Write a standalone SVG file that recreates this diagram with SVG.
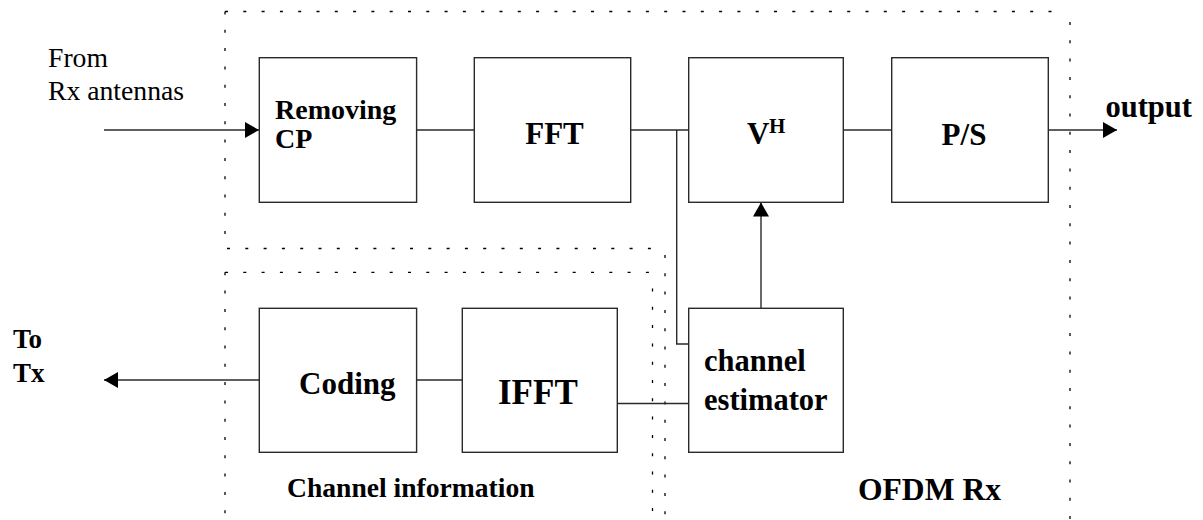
<svg xmlns="http://www.w3.org/2000/svg" width="1203" height="520" viewBox="0 0 1203 520">
  <style>
    .box { fill: #ffffff; stroke: #2a2a2a; stroke-width: 1.4; }
    .wire { fill: none; stroke: #2a2a2a; stroke-width: 1.4; }
    .dot { fill: none; stroke: #000000; stroke-width: 1.3; stroke-dasharray: 3 15.3; }
    text { font-family: 'Liberation Serif', 'DejaVu Serif', serif; fill: #000000; }
    .b { font-weight: bold; }
  </style>
  <defs>
    <marker id="arrow" markerUnits="userSpaceOnUse" markerWidth="15" markerHeight="16" refX="14" refY="8" orient="auto">
      <path d="M0,0 L14,8 L0,16 Z" fill="#000000"/>
    </marker>
  </defs>

  <!-- dotted enclosures -->
  <g id="ofdm-rx-region">
    <path class="dot" d="M225,11.5 H1064"/>
    <path class="dot" d="M225,11.5 V249"/>
    <path class="dot" d="M227,248.5 H660"/>
    <path class="dot" d="M665,255 V520"/>
    <path class="dot" d="M1070,22 V520"/>
  </g>
  <g id="channel-info-region">
    <path class="dot" d="M225,272.3 H653"/>
    <path class="dot" d="M225,272.3 V520"/>
    <path class="dot" d="M652.5,288.5 V520"/>
  </g>

  <!-- connectors -->
  <g id="connectors">
    <line class="wire" x1="104" y1="130" x2="259" y2="130" marker-end="url(#arrow)"/>
    <line class="wire" x1="416" y1="130" x2="474" y2="130"/>
    <line class="wire" x1="630" y1="130" x2="689" y2="130"/>
    <polyline class="wire" points="676.7,130 676.7,344 689,344"/>
    <line class="wire" x1="761" y1="308" x2="761" y2="202.5" marker-end="url(#arrow)"/>
    <line class="wire" x1="843" y1="130" x2="892" y2="130"/>
    <line class="wire" x1="1048" y1="130" x2="1117" y2="130" marker-end="url(#arrow)"/>
    <line class="wire" x1="259" y1="380" x2="104" y2="380" marker-end="url(#arrow)"/>
    <line class="wire" x1="417" y1="380" x2="462" y2="380"/>
    <line class="wire" x1="617" y1="403.5" x2="689" y2="403.5"/>
  </g>

  <!-- processing blocks -->
  <g id="removing-cp">
    <rect class="box" x="259.3" y="57.7" width="157.3" height="144.6"/>
    <text class="b" x="275" y="119" font-size="28">Removing</text>
    <text class="b" x="275" y="148" font-size="28">CP</text>
  </g>
  <g id="fft">
    <rect class="box" x="474.3" y="57.7" width="156.4" height="144.6"/>
    <text class="b" x="554.5" y="144" font-size="31" text-anchor="middle">FFT</text>
  </g>
  <g id="vh">
    <rect class="box" x="688.7" y="57.7" width="154.6" height="144.6"/>
    <text class="b" x="747" y="144" font-size="31">V</text>
    <text class="b" x="769" y="133.3" font-size="21">H</text>
  </g>
  <g id="ps">
    <rect class="box" x="891.7" y="57.7" width="156.6" height="144.6"/>
    <text class="b" x="964" y="144.5" font-size="31" text-anchor="middle">P/S</text>
  </g>
  <g id="coding">
    <rect class="box" x="259.3" y="308.3" width="157.3" height="144"/>
    <text class="b" x="299" y="394" font-size="31">Coding</text>
  </g>
  <g id="ifft">
    <rect class="box" x="462.3" y="308.3" width="155" height="144"/>
    <text class="b" x="498" y="404" font-size="35">IFFT</text>
  </g>
  <g id="channel-estimator">
    <rect class="box" x="688.7" y="308.3" width="154.6" height="144"/>
    <text class="b" x="704" y="371" font-size="30.5">channel</text>
    <text class="b" x="704" y="410" font-size="30.5">estimator</text>
  </g>

  <!-- external labels -->
  <g id="input-label">
    <text x="48" y="67" font-size="27.7">From</text>
    <text x="48" y="100" font-size="27.7">Rx antennas</text>
  </g>
  <g id="output-label">
    <text class="b" x="1105.5" y="117" font-size="30.5">output</text>
  </g>
  <g id="feedback-label">
    <text class="b" x="13" y="347.5" font-size="27">To</text>
    <text class="b" x="13" y="382" font-size="27">Tx</text>
  </g>
  <g id="region-labels">
    <text class="b" x="287" y="497" font-size="27.6">Channel information</text>
    <text class="b" x="858" y="500" font-size="31.6">OFDM Rx</text>
  </g>
</svg>
